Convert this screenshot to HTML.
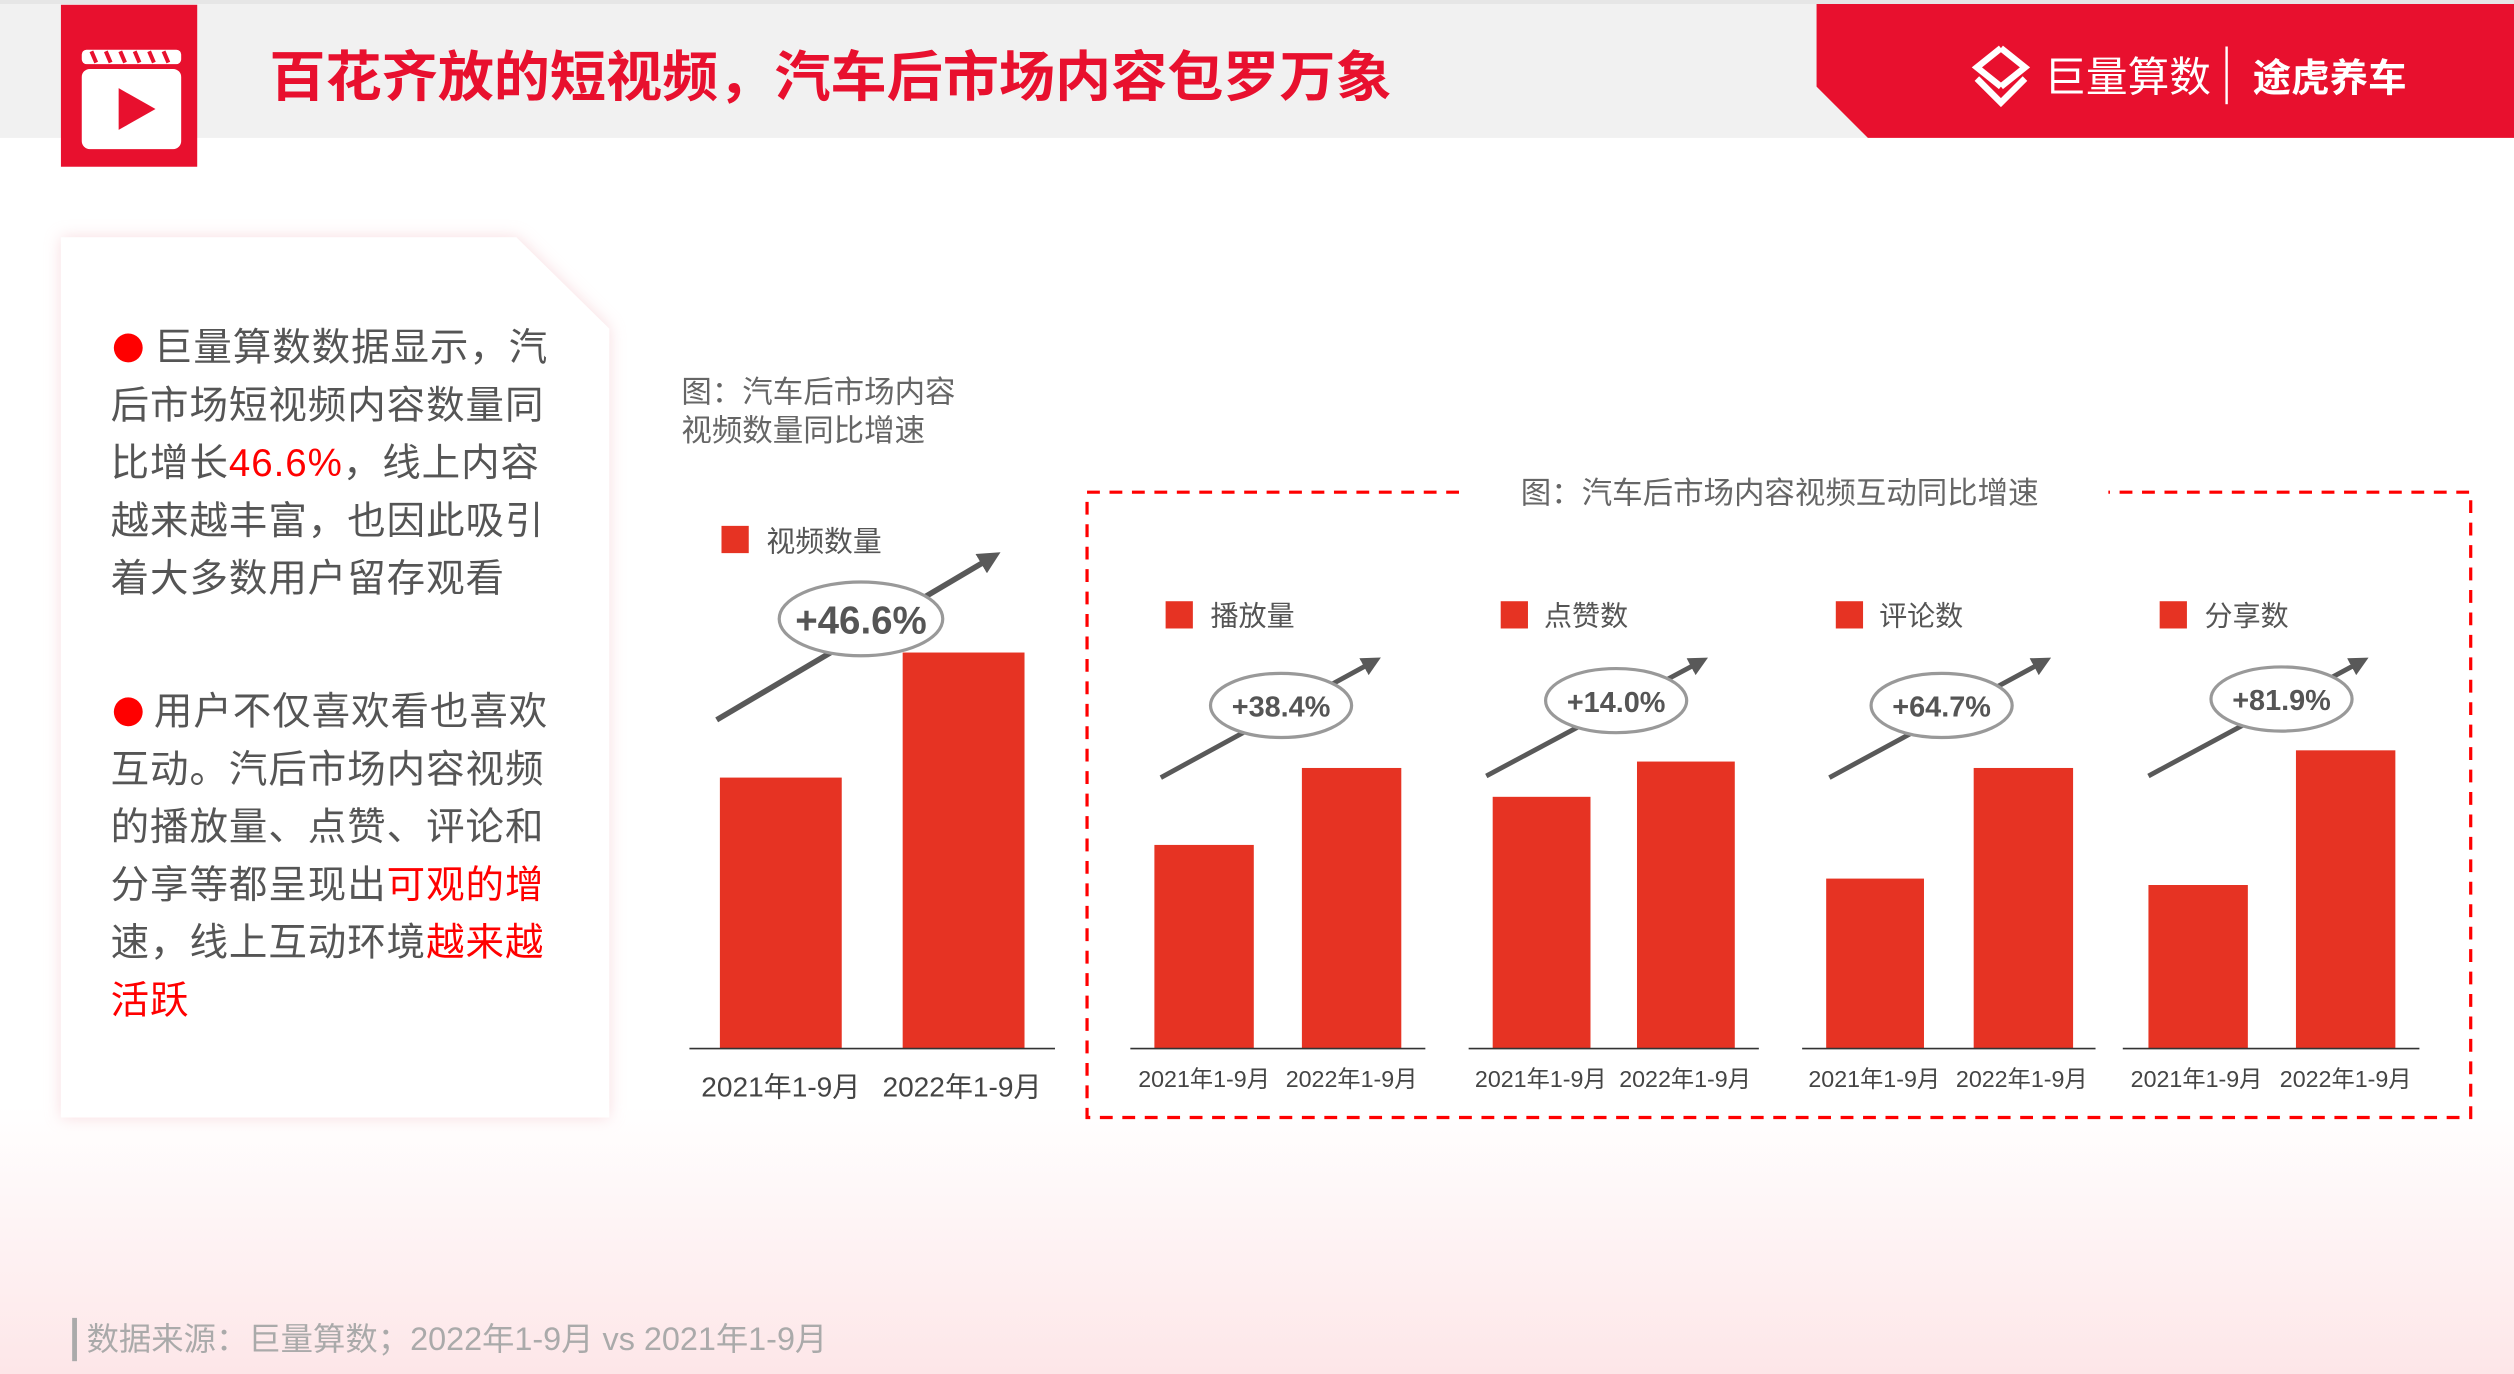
<!DOCTYPE html>
<html><head><meta charset="utf-8"><style>
html,body{margin:0;padding:0;background:#fff;}
svg{display:block;}
text{font-family:"Liberation Sans","Noto Sans CJK SC",sans-serif;}
</style></head><body>
<svg width="2514" height="1374" viewBox="0 0 1568 857" preserveAspectRatio="none" xmlns="http://www.w3.org/2000/svg">
<defs>
<linearGradient id="bg" x1="0" y1="0" x2="0" y2="1">
<stop offset="0" stop-color="#fff"/><stop offset="1" stop-color="#fde6e8"/></linearGradient>
<filter id="sh" x="-10%" y="-10%" width="120%" height="120%"><feDropShadow dx="0" dy="0" stdDeviation="5" flood-color="#f0b0b8" flood-opacity="0.45"/></filter>
<marker id="ah" markerWidth="4" markerHeight="4" refX="2" refY="2" orient="auto"><path d="M0,0 L4,2 L0,4 Z" fill="#595959"/></marker>
</defs>
<rect x="0" y="0" width="1568" height="857" fill="#fff"/>
<rect x="0" y="690" width="1568" height="167" fill="url(#bg)"/>
<!-- header -->
<rect x="0" y="0" width="1568" height="86" fill="#f1f1f1"/>
<rect x="0" y="0" width="1568" height="2.5" fill="#e6e6e6"/>
<rect x="38" y="3" width="85" height="101" fill="#e8102e"/>
<rect x="51" y="43" width="62" height="50" rx="5" fill="#fff"/>
<rect x="51" y="31" width="62" height="9" rx="3" fill="#fff"/>
<path d="M57,32 l3,7 M66,32 l3,7 M75,32 l3,7 M84,32 l3,7 M93,32 l3,7 M102,32 l3,7" stroke="#e8102e" stroke-width="2.5"/>
<path d="M74,55 L97,68 L74,81 Z" fill="#e8102e"/>
<text x="168" y="60" font-size="34" font-weight="bold" fill="#e8102e" textLength="700" lengthAdjust="spacingAndGlyphs">百花齐放的短视频，汽车后市场内容包罗万象</text>
<path d="M1133,2.5 L1568,2.5 L1568,86 L1165,86 L1133,54 Z" fill="#e8102e"/>
<g transform="translate(1248,47)" fill="none" stroke="#fff" stroke-width="4">
<path d="M0,-17 L15,-5 L0,7 M0,-17 L-15,-5 L0,7"/><path d="M-15,2 L0,17 L15,2"/>
</g>
<text x="1275" y="57" font-size="26" fill="#fff">巨量算数</text>
<rect x="1388" y="29" width="1.5" height="36" fill="#fff"/>
<text x="1405" y="57" font-size="24" font-weight="bold" fill="#fff">途虎养车</text>
<!-- left card -->
<path d="M38,148 L322,148 L380,205 L380,697 L38,697 Z" fill="#fff" filter="url(#sh)"/>
<g font-size="24" fill="#555" letter-spacing="0.6">
<circle cx="80" cy="217" r="9" fill="#f00"/>
<text x="96" y="225">巨量算数数据显示，汽</text>
<text x="69" y="261">后市场短视频内容数量同</text>
<text x="69" y="297">比增长<tspan fill="#f00">46.6%</tspan>，线上内容</text>
<text x="69" y="333">越来越丰富，也因此吸引</text>
<text x="69" y="369">着大多数用户留存观看</text>
<circle cx="80" cy="444" r="9" fill="#f00"/>
<text x="96" y="452">用户不仅喜欢看也喜欢</text>
<text x="69" y="488">互动。汽后市场内容视频</text>
<text x="69" y="524">的播放量、点赞、评论和</text>
<text x="69" y="560">分享等都呈现出<tspan fill="#f00">可观的增</tspan></text>
<text x="69" y="596">速，线上互动环境<tspan fill="#f00">越来越</tspan></text>
<text x="69" y="632" fill="#f00">活跃</text>
</g>
<!-- chart 1 -->
<g fill="#666" font-size="19">
<text x="425" y="251">图：汽车后市场内容</text>
<text x="425" y="275">视频数量同比增速</text>
</g>
<rect x="450" y="328" width="17" height="17" fill="#e63323"/>
<text x="478" y="344" font-size="18" fill="#555">视频数量</text>
<rect x="449" y="485" width="76" height="169" fill="#e63323"/>
<rect x="563" y="407" width="76" height="247" fill="#e63323"/>
<line x1="430" y1="654" x2="658" y2="654" stroke="#333" stroke-width="1"/>
<g font-size="17.5" fill="#444" text-anchor="middle"><text x="487" y="684">2021年1-9月</text><text x="600" y="684">2022年1-9月</text></g>
<line x1="447" y1="449" x2="618" y2="348" stroke="#595959" stroke-width="3.5" marker-end="url(#ah)"/>
<ellipse cx="537" cy="386" rx="51" ry="23" fill="#fff" stroke="#999" stroke-width="2"/>
<text x="537" y="395" font-size="24" font-weight="bold" fill="#555" text-anchor="middle">+46.6%</text>
<!-- dashed box -->
<rect x="678" y="307" width="863" height="390" fill="none" stroke="#f00" stroke-width="2" stroke-dasharray="8,6"/>
<rect x="910" y="300" width="405" height="14" fill="#fff"/>
<text x="1110" y="314" font-size="19" fill="#666" text-anchor="middle">图：汽车后市场内容视频互动同比增速</text>
<g id="subs">
<rect x="727" y="375" width="17" height="17" fill="#e63323"/><text x="755" y="390" font-size="17.5" fill="#555">播放量</text>
<rect x="720" y="527" width="62" height="127" fill="#e63323"/><rect x="812" y="479" width="62" height="175" fill="#e63323"/>
<line x1="705" y1="654" x2="889" y2="654" stroke="#333"/>
<line x1="724" y1="485" x2="856" y2="413" stroke="#595959" stroke-width="3" marker-end="url(#ah)"/>
<ellipse cx="799" cy="440" rx="44" ry="20" fill="#fff" stroke="#999" stroke-width="2"/>
<text x="799" y="447" font-size="18" font-weight="bold" fill="#555" text-anchor="middle">+38.4%</text>
<rect x="936" y="375" width="17" height="17" fill="#e63323"/><text x="963" y="390" font-size="17.5" fill="#555">点赞数</text>
<rect x="931" y="497" width="61" height="157" fill="#e63323"/><rect x="1021" y="475" width="61" height="179" fill="#e63323"/>
<line x1="916" y1="654" x2="1097" y2="654" stroke="#333"/>
<line x1="927" y1="484" x2="1060" y2="413" stroke="#595959" stroke-width="3" marker-end="url(#ah)"/>
<ellipse cx="1008" cy="437" rx="44" ry="20" fill="#fff" stroke="#999" stroke-width="2"/>
<text x="1008" y="444" font-size="18" font-weight="bold" fill="#555" text-anchor="middle">+14.0%</text>
<rect x="1145" y="375" width="17" height="17" fill="#e63323"/><text x="1172" y="390" font-size="17.5" fill="#555">评论数</text>
<rect x="1139" y="548" width="61" height="106" fill="#e63323"/><rect x="1231" y="479" width="62" height="175" fill="#e63323"/>
<line x1="1124" y1="654" x2="1307" y2="654" stroke="#333"/>
<line x1="1141" y1="485" x2="1274" y2="413" stroke="#595959" stroke-width="3" marker-end="url(#ah)"/>
<ellipse cx="1211" cy="440" rx="44" ry="20" fill="#fff" stroke="#999" stroke-width="2"/>
<text x="1211" y="447" font-size="18" font-weight="bold" fill="#555" text-anchor="middle">+64.7%</text>
<rect x="1347" y="375" width="17" height="17" fill="#e63323"/><text x="1375" y="390" font-size="17.5" fill="#555">分享数</text>
<rect x="1340" y="552" width="62" height="102" fill="#e63323"/><rect x="1432" y="468" width="62" height="186" fill="#e63323"/>
<line x1="1324" y1="654" x2="1509" y2="654" stroke="#333"/>
<line x1="1340" y1="484" x2="1472" y2="413" stroke="#595959" stroke-width="3" marker-end="url(#ah)"/>
<ellipse cx="1423" cy="436" rx="44" ry="20" fill="#fff" stroke="#999" stroke-width="2"/>
<text x="1423" y="443" font-size="18" font-weight="bold" fill="#555" text-anchor="middle">+81.9%</text>
</g>
<g font-size="14.5" fill="#444" text-anchor="middle">
<text x="751" y="678">2021年1-9月</text><text x="843" y="678">2022年1-9月</text>
<text x="961" y="678">2021年1-9月</text><text x="1051" y="678">2022年1-9月</text>
<text x="1169" y="678">2021年1-9月</text><text x="1261" y="678">2022年1-9月</text>
<text x="1370" y="678">2021年1-9月</text><text x="1463" y="678">2022年1-9月</text>
</g>
<!-- footer -->
<rect x="45" y="822" width="3" height="27" fill="#aaa"/>
<text x="54" y="842" font-size="20" fill="#aaa" textLength="462" lengthAdjust="spacingAndGlyphs">数据来源：巨量算数；2022年1-9月 vs 2021年1-9月</text>
</svg>
</body></html>
